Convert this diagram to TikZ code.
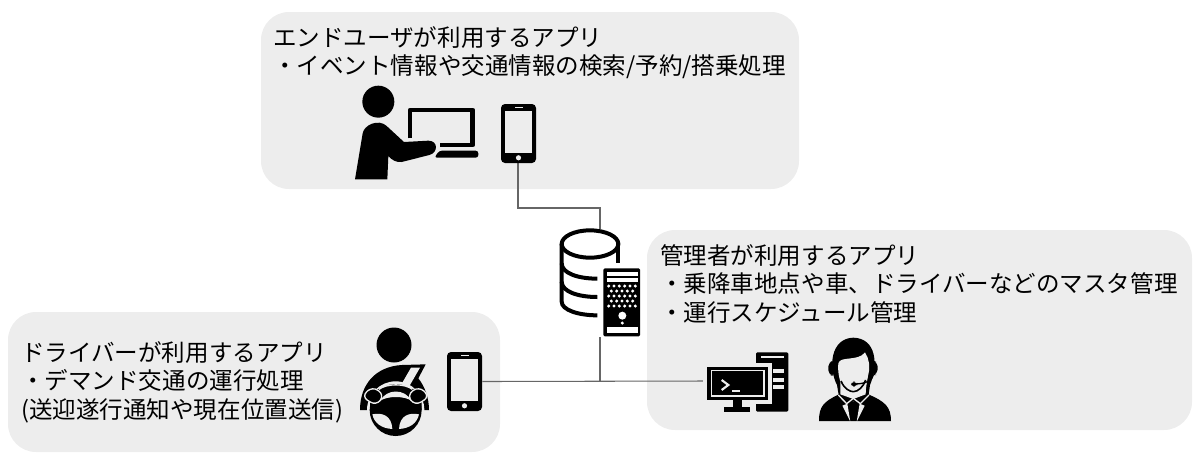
\documentclass[tikz,border=0pt]{standalone}
\usepackage{fontspec}
\setmainfont{Noto Sans CJK JP}
\setlength\lineskiplimit{-8pt}
\usetikzlibrary{positioning}
\definecolor{panelgray}{HTML}{EDEDED}
\definecolor{wiregray}{HTML}{666666}
\tikzset{
  panel/.style={fill=panelgray,rounded corners=21pt},
  applabel/.style={anchor=north west,align=left,inner sep=0pt,font=\fontsize{17.65}{21.5}\selectfont},
  iconbox/.style={inner sep=0pt,minimum width=#1*0.75pt},
  wire/.style={draw=wiregray,line width=0.8pt},
  ink/.style={fill=black},
  cut/.style={fill=panelgray},
}
\newcommand\phoneicon[1]{%
  \begin{scope}[shift={(#1)}]
    \fill[ink,rounded corners=3pt] (0,0) rectangle (35,59);
    \fill[cut] (4,6.5) rectangle (31,48.5);
    \fill[cut] (13.5,2.6) rectangle (21.5,3.8);
    \fill[cut] (17.5,53.8) circle (2.6);
  \end{scope}}
\begin{document}
\begin{tikzpicture}[x=0.75pt,y=-0.75pt]
  \useasboundingbox (0,0) rectangle (1200,462);

  \fill[panel] (261,12) rectangle (799,189); % user
  \fill[panel] (647,230) rectangle (1192,430); % admin
  \fill[panel] (8,312) rectangle (500,452); % driver

  \node[applabel] (userText) at (273,26) {エンドユーザが利用するアプリ\\・イベント情報や交通情報の検索/予約/搭乗処理};
  \node[applabel] (adminText) at (660,244) {管理者が利用するアプリ\\・乗降車地点や車、ドライバーなどのマスタ管理\\・運行スケジュール管理};
  \node[applabel] (driverText) at (21,341) {ドライバーが利用するアプリ\\・デマンド交通の運行処理\\(送迎遂行通知や現在位置送信)};

  % anchors for the connectors
  \node[iconbox=35,minimum height=44.25pt] (userPhone) at (518,133.5) {};
  \node[iconbox=35,minimum height=44.25pt] (driverPhone) at (464.5,381.5) {};
  \node[iconbox=80,minimum height=81pt] (dbServer) at (600,283) {};
  \node[iconbox=80,minimum height=45pt] (adminPc) at (748,381) {};

  \draw[wire] (userPhone.south) |- (518,208) -| (dbServer.north);
  \draw[wire] (dbServer.south) -- (dbServer.south |- driverPhone.east);
  \draw[wire] (driverPhone.east) -- (adminPc.west);

  % person at the laptop
  \begin{scope}[shift={(340,80)},scale=1/3]
    \fill[ink] (115,65) circle (48);
    \draw[line width=3.6pt,line join=round] (210,175) -- (210,90) -- (398,90) -- (398,195) -- (300,195);
    \fill[ink,rounded corners=2pt] (298,212) -- (415,212) -- (415,233) -- (283,233) -- cycle;
    \fill[ink] (45,298) -- (68,160) .. controls (72,135) and (115,115) .. (140,138)
      -- (192,186) -- (265,182) .. controls (295,182) and (295,218) .. (268,225)
      -- (185,246) .. controls (170,248) and (155,240) .. (145,228) -- (142,298) -- cycle;
  \end{scope}
  \phoneicon{501,104}

  % database with server
  \begin{scope}[shift={(540,220)},scale=1/3]
    \draw[line width=3pt] (150,72) ellipse (85 and 41);
    \draw[line width=3pt] (65,72) -- (65,245) .. controls (65,270) and (115,286) .. (172,286);
    \draw[line width=3pt] (65,130) .. controls (65,160) and (115,176) .. (172,176);
    \draw[line width=3pt] (65,185) .. controls (65,215) and (115,231) .. (172,231);
    \draw[line width=3pt] (235,72) -- (235,128);
    \fill[ink,rounded corners=1pt] (190,145) rectangle (300,349);
    \fill[white] (200,157) rectangle (293,168);
    \fill[white] (200,175) rectangle (293,186);
    \foreach \yy in {198,228,258}
      \foreach \xx in {206,222,238,254,270,286}
        \fill[white] (\xx,\yy) circle (5);
    \foreach \yy in {213,243}
      \foreach \xx in {214,230,246,262,278}
        \fill[white] (\xx,\yy) circle (5);
    \fill[white] (247,287) circle (12);
    \fill[white] (247,309) circle (5);
    \fill[white] (200,322) rectangle (293,340);
  \end{scope}

  % driver
  \fill[ink] (394,345) circle (17.5);
  \begin{scope}[shift={(355,355)},scale=1/3]
    \fill[ink] (15,165) .. controls (15,90) and (60,35) .. (140,30) -- (212,28) -- (190,70)
      .. controls (210,95) and (222,130) .. (222,165) -- cycle;
    \fill[cut] (168,38) -- (195,38) -- (165,90) -- (138,90) -- cycle;
    \fill[cut] (122,165) circle (86);
    \fill[ink] (122,165) circle (78);
    \fill[ink] (45,118) .. controls (80,85) and (165,85) .. (200,118) -- (200,165) -- (45,165) -- cycle;
    \fill[cut] (75,138) .. controls (95,100) and (150,100) .. (170,138) .. controls (150,122) and (95,122) .. (75,138) -- cycle;
    \fill[cut] (52,178) .. controls (80,172) and (110,180) .. (112,222)
      .. controls (80,220) and (58,205) .. (52,178) -- cycle;
    \fill[cut] (192,178) .. controls (164,172) and (134,180) .. (132,222)
      .. controls (164,220) and (186,205) .. (192,178) -- cycle;
    \draw[panelgray,line width=1pt] (72,103) .. controls (95,85) and (150,85) .. (172,103);
    \fill[ink,draw=panelgray,line width=1pt,rounded corners=5pt] (20,125) -- (52,94) -- (88,120) -- (64,152) -- cycle;
    \fill[ink,draw=panelgray,line width=1pt,rounded corners=5pt] (224,125) -- (192,94) -- (156,120) -- (180,152) -- cycle;
  \end{scope}
  \phoneicon{447,352}

  % admin computer
  \begin{scope}[shift={(690,330)},scale=1/3]
    \fill[ink,rounded corners=1pt] (198,67) rectangle (295,245);
    \fill[cut] (212,79) rectangle (282,85);
    \fill[cut] (250,118) rectangle (282,130);
    \fill[cut] (250,143) rectangle (282,155);
    \fill[cut] (250,165) rectangle (282,177);
    \fill[cut] (40,98) rectangle (246,222);
    \fill[cut] (188,222) rectangle (198,245);
    \fill[ink] (52,110) rectangle (235,210);
    \draw[panelgray,line width=0.9pt] (65,122) rectangle (222,198);
    \fill[ink] (130,210) rectangle (155,232);
    \fill[ink] (103,232) rectangle (180,245);
    \draw[panelgray,line width=1.6pt] (95,150) -- (115,165) -- (95,180);
    \fill[cut] (125,179) rectangle (150,185);
  \end{scope}

  % admin operator
  \begin{scope}[shift={(815,335)},scale=1/3]
    \fill[ink] (12,258) .. controls (12,215) and (25,200) .. (72,178) -- (115,200) -- (160,178)
      .. controls (210,200) and (228,215) .. (228,258) -- cycle;
    \fill[ink] (66,150) .. controls (40,100) and (45,10) .. (115,8)
      .. controls (185,10) and (190,90) .. (165,150) -- (160,185) -- (115,200) -- (72,185) -- cycle;
    \fill[ink,rounded corners=4pt] (40,78) rectangle (62,122);
    \fill[ink,rounded corners=4pt] (168,78) rectangle (188,120);
    \fill[cut] (76,178) -- (76,140) .. controls (70,120) and (68,100) .. (70,85)
      .. controls (75,62) and (130,80) .. (150,52)
      .. controls (162,70) and (166,95) .. (160,118)
      .. controls (155,145) and (152,160) .. (152,178) -- (115,192) -- cycle;
    \draw[line width=1pt] (176,118) .. controls (172,138) and (150,146) .. (122,147);
    \fill[ink,rounded corners=3pt] (108,140) rectangle (126,155);
    % jaw line, collar, shirt and tie
    \draw[line width=1.2pt] (78,138) .. controls (88,162) and (105,170) .. (115,170) .. controls (130,170) and (145,155) .. (152,135);
    \draw[panelgray,line width=1pt] (70,180) -- (95,206) -- (115,190) -- (136,206) -- (162,180);
    \fill[cut] (82,212) -- (97,206) -- (106,260) -- cycle;
    \fill[cut] (149,212) -- (134,206) -- (125,260) -- cycle;
  \end{scope}
\end{tikzpicture}
\end{document}
